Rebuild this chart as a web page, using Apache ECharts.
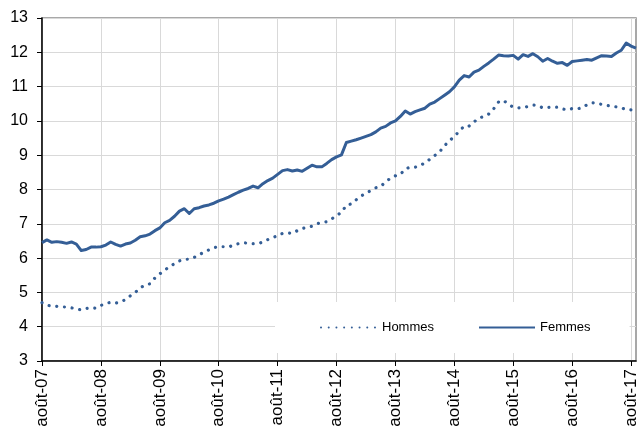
<!DOCTYPE html>
<html>
<head>
<meta charset="utf-8">
<script src="https://cdn.jsdelivr.net/npm/echarts@6/dist/echarts.min.js"></script>
<style>
  html, body { margin: 0; padding: 0; background: #fff; }
  #chart { width: 640px; height: 427px; }
</style>
</head>
<body>
<div id="chart"></div>
<script>
// Month names (French) used to build monthly categories Aug 2007 – Sep 2017
const monthNames = ['janv.', 'févr.', 'mars', 'avr.', 'mai', 'juin', 'juil.', 'août', 'sept.', 'oct.', 'nov.', 'déc.'];
const startYear = 2007, startMonth = 7, monthCount = 122;
const categories = [];
for (let i = 0; i < monthCount; i++) {
  const mi = (startMonth + i) % 12;
  const yr = startYear + Math.floor((startMonth + i) / 12);
  categories.push(monthNames[mi] + '-' + String(yr % 100).padStart(2, '0'));
}

const seriesNames = ['Hommes', 'Femmes'];

const hommes = [
  4.70, 4.63, 4.60, 4.59, 4.58, 4.57, 4.55, 4.52, 4.49, 4.53, 4.55, 4.54,
  4.62, 4.68, 4.71, 4.69, 4.72, 4.79, 4.90, 5.00, 5.13, 5.22, 5.25, 5.42,
  5.54, 5.65, 5.75, 5.84, 5.92, 5.96, 5.97, 6.02, 6.10, 6.17, 6.24, 6.30,
  6.34, 6.33, 6.32, 6.38, 6.42, 6.45, 6.43, 6.42, 6.42, 6.47, 6.54, 6.60,
  6.65, 6.72, 6.73, 6.72, 6.80, 6.86, 6.90, 6.93, 7.00, 7.04, 7.06, 7.14,
  7.24, 7.33, 7.54, 7.58, 7.70, 7.81, 7.89, 7.97, 8.05, 8.09, 8.22, 8.33,
  8.40, 8.44, 8.60, 8.65, 8.65, 8.69, 8.78, 8.88, 8.99, 9.10, 9.28, 9.42,
  9.55, 9.70, 9.85, 9.85, 9.97, 10.08, 10.13, 10.20, 10.35, 10.55, 10.60, 10.48,
  10.40, 10.38, 10.39, 10.42, 10.46, 10.45, 10.38, 10.39, 10.40, 10.40, 10.35, 10.32,
  10.36, 10.35, 10.38, 10.47, 10.53, 10.52, 10.48, 10.45, 10.43, 10.41, 10.38, 10.33,
  10.32, 10.31
];

const femmes = [
  6.45, 6.53, 6.46, 6.48, 6.46, 6.43, 6.47, 6.41, 6.22, 6.25, 6.32, 6.32,
  6.33, 6.38, 6.47, 6.40, 6.35, 6.41, 6.44, 6.52, 6.62, 6.65, 6.70, 6.80,
  6.88, 7.03, 7.10, 7.22, 7.37, 7.44, 7.30, 7.44, 7.47, 7.52, 7.55, 7.60,
  7.67, 7.72, 7.78, 7.85, 7.92, 7.98, 8.03, 8.10, 8.05, 8.17, 8.26, 8.33,
  8.44, 8.55, 8.58, 8.54, 8.57, 8.53, 8.62, 8.71, 8.66, 8.66, 8.76, 8.87,
  8.95, 9.01, 9.37, 9.41, 9.45, 9.50, 9.55, 9.60, 9.68, 9.79, 9.84, 9.94,
  10.00, 10.13, 10.29, 10.20, 10.27, 10.32, 10.37, 10.49, 10.55, 10.65, 10.75, 10.85,
  10.99, 11.19, 11.32, 11.28, 11.42, 11.48, 11.59, 11.69, 11.80, 11.92, 11.90, 11.89,
  11.91, 11.80, 11.93, 11.88, 11.96, 11.87, 11.74, 11.82, 11.74, 11.68, 11.70, 11.62,
  11.73, 11.75, 11.77, 11.79, 11.77, 11.84, 11.90, 11.89, 11.88, 11.98, 12.06, 12.27,
  12.18, 12.12
];

const yMin = 3, yMax = 13, yStep = 1;

const lineColor = '#345E96';
const font = 'Liberation Sans, Arial, sans-serif';

const chart = echarts.init(document.getElementById('chart'), null, { renderer: 'canvas' });
chart.setOption({
  animation: false,
  backgroundColor: '#ffffff',
  grid: {
    left: 42, right: 4, top: 18, bottom: 66,
    containLabel: false,
    outerBoundsMode: 'none',
    show: true, borderColor: '#8C8C8C', borderWidth: 1.5, backgroundColor: 'transparent'
  },
  legend: {
    data: seriesNames,
    left: 275, top: 302,
    padding: [19, 39, 19, 45],
    itemGap: 44,
    itemWidth: 56,
    itemHeight: 12,
    itemStyle: { opacity: 0 },
    backgroundColor: '#ffffff',
    textStyle: { fontFamily: font, fontSize: 13, color: '#000' }
  },
  xAxis: {
    type: 'category',
    data: categories,
    boundaryGap: false,
    axisLine: { show: true, lineStyle: { color: '#000', width: 1.5 } },
    axisTick: { show: true, interval: 11, length: 5, lineStyle: { color: '#000' } },
    axisLabel: {
      interval: 11, rotate: 90, margin: 8,
      fontFamily: font, fontSize: 17, color: '#000'
    },
    splitLine: { show: true, interval: 11, lineStyle: { color: '#D9D9D9', width: 1 } }
  },
  yAxis: {
    type: 'value',
    min: yMin, max: yMax, interval: yStep,
    axisLine: { show: true, lineStyle: { color: '#000', width: 1.5 } },
    axisTick: { show: true, length: 5, lineStyle: { color: '#000' } },
    axisLabel: { fontFamily: font, fontSize: 16, color: '#000', margin: 14 },
    splitLine: { show: true, lineStyle: { color: '#D9D9D9', width: 1 } }
  },
  series: [
    {
      name: seriesNames[0],
      type: 'line',
      data: hommes,
      symbol: 'none',
      showSymbol: false,
      color: lineColor,
      lineStyle: { color: lineColor, width: 3.2, type: [0.01, 7.7], cap: 'round' },
      z: 3
    },
    {
      name: seriesNames[1],
      type: 'line',
      data: femmes,
      symbol: 'none',
      showSymbol: false,
      color: lineColor,
      lineStyle: { color: lineColor, width: 3, join: 'round' },
      z: 3
    }
  ]
});
</script>
</body>
</html>
